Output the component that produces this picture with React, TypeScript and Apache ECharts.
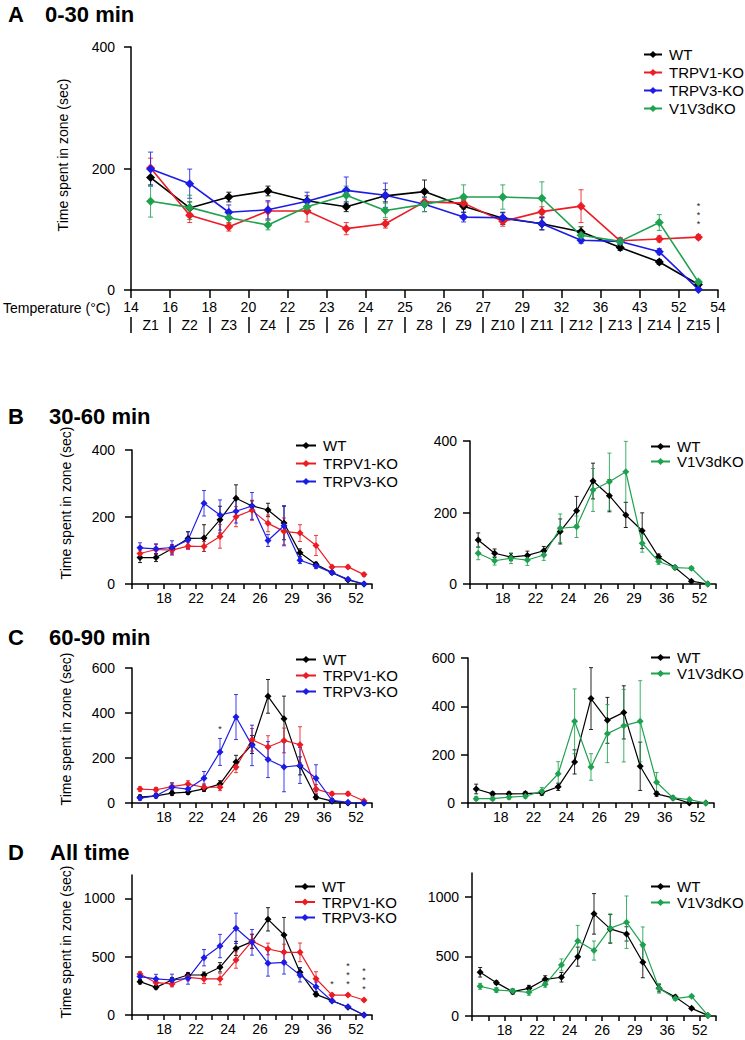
import React, { useEffect, useRef } from 'react';
import * as echarts from 'echarts';

// ---------- Axis categories ----------
const temps = ['14', '16', '18', '20', '22', '23', '24', '25', '26', '27', '29', '32', '36', '43', '52', '54'];
const zones = ['Z1', 'Z2', 'Z3', 'Z4', 'Z5', 'Z6', 'Z7', 'Z8', 'Z9', 'Z10', 'Z11', 'Z12', 'Z13', 'Z14', 'Z15'];

// ---------- Panel A: 0-30 min ----------
const A_WT = [185, 135, 153, 163, 147, 137, 155, 162, 138, 118, 109, 96, 70, 46, 9];
const A_WT_err = [12, 10, 8, 8, 8, 8, 10, 19, 10, 10, 10, 8, 5, 4, 3];
const A_V1 = [201, 123, 104, 130, 130, 101, 109, 145, 143, 113, 129, 138, 81, 84, 87];
const A_V1_err = [16, 12, 7, 15, 18, 10, 7, 7, 7, 8, 8, 27, 5, 5, 4];
const A_V3 = [199, 175, 128, 132, 146, 164, 156, 141, 120, 119, 109, 82, 80, 63, 1];
const A_V3_err = [28, 24, 12, 15, 15, 22, 20, 12, 8, 8, 10, 5, 5, 5, 1];
const A_DKO = [146, 136, 119, 107, 137, 156, 131, 141, 153, 153, 151, 90, 80, 111, 13];
const A_DKO_err = [26, 20, 10, 8, 10, 15, 12, 12, 20, 20, 27, 8, 5, 13, 3];

// ---------- Panel B: 30-60 min ----------
const B_WT = [79, 79, 105, 136, 137, 192, 256, 233, 221, 182, 93, 59, 34, 12, 0];
const B_WT_err = [15, 12, 12, 20, 40, 40, 40, 15, 20, 50, 12, 6, 4, 3, 0];
const B_V1 = [91, 103, 101, 113, 112, 142, 201, 220, 181, 157, 152, 115, 51, 51, 28];
const B_V1_err = [10, 15, 15, 10, 15, 35, 30, 30, 25, 40, 25, 30, 5, 5, 5];
const B_V3 = [108, 105, 109, 131, 241, 206, 217, 233, 130, 174, 71, 54, 34, 14, 0];
const B_V3_err = [15, 15, 20, 25, 38, 45, 35, 40, 18, 60, 10, 8, 5, 3, 0];
const BR_WT = [123, 86, 75, 80, 93, 147, 205, 288, 247, 193, 149, 76, 46, 8, 0];
const BR_WT_err = [20, 12, 10, 12, 12, 35, 40, 50, 45, 35, 50, 8, 5, 3, 0];
const BR_DKO = [86, 65, 72, 67, 81, 156, 160, 263, 286, 314, 114, 63, 46, 44, 0];
const BR_DKO_err = [18, 12, 15, 15, 15, 40, 30, 60, 80, 85, 25, 8, 5, 5, 0];

// ---------- Panel C: 60-90 min ----------
const C_WT = [26, 32, 44, 48, 63, 84, 182, 260, 474, 375, 165, 26, 8, 0, 0];
const C_WT_err = [10, 8, 10, 10, 12, 15, 30, 40, 75, 100, 40, 10, 5, 2, 0];
const C_V1 = [62, 59, 73, 84, 70, 70, 160, 281, 249, 278, 259, 62, 41, 41, 9];
const C_V1_err = [10, 10, 15, 15, 15, 15, 25, 50, 50, 55, 80, 20, 8, 8, 5];
const C_V3 = [22, 32, 70, 62, 110, 227, 382, 256, 193, 160, 167, 110, 12, 3, 0];
const C_V3_err = [10, 10, 20, 15, 30, 60, 100, 90, 80, 110, 80, 60, 8, 3, 0];
const CR_WT = [58, 38, 38, 39, 42, 67, 170, 432, 342, 375, 152, 38, 21, 0, 0];
const CR_WT_err = [20, 8, 8, 8, 10, 15, 50, 128, 95, 110, 100, 10, 5, 2, 0];
const CR_DKO = [18, 18, 24, 28, 49, 121, 338, 149, 287, 320, 338, 86, 21, 14, 0];
const CR_DKO_err = [8, 8, 8, 8, 15, 50, 134, 55, 120, 150, 168, 40, 8, 5, 0];

// ---------- Panel D: All time ----------
const D_WT = [286, 237, 300, 343, 343, 409, 571, 629, 820, 686, 366, 177, 123, 66, 0];
const D_WT_err = [20, 15, 20, 20, 25, 40, 60, 60, 100, 150, 40, 20, 10, 5, 0];
const D_V1 = [351, 277, 266, 323, 309, 309, 471, 634, 566, 537, 537, 311, 171, 171, 129];
const D_V1_err = [20, 20, 25, 30, 40, 50, 70, 60, 50, 70, 80, 60, 15, 10, 10];
const D_V3 = [329, 309, 300, 314, 491, 591, 743, 623, 443, 451, 343, 243, 120, 71, 0];
const D_V3_err = [30, 40, 50, 50, 70, 100, 130, 110, 110, 100, 60, 40, 10, 10, 0];
const DR_WT = [367, 280, 204, 232, 308, 325, 498, 857, 731, 689, 451, 232, 160, 64, 5];
const DR_WT_err = [40, 15, 20, 25, 30, 40, 80, 170, 120, 60, 130, 30, 15, 10, 0];
const DR_DKO = [249, 218, 210, 199, 266, 429, 630, 549, 737, 787, 597, 232, 146, 165, 5];
const DR_DKO_err = [25, 20, 20, 25, 25, 50, 130, 80, 120, 220, 150, 40, 15, 10, 0];

// significance marks (zone index -> text)
const A_V1_stars: Record<number, string> = { 14: '*\n*\n*' };
const C_V3_stars: Record<number, string> = { 5: '*' };
const D_V1_stars: Record<number, string> = { 12: '*', 13: '*\n*\n*', 14: '*\n*\n*' };

const COLORS: Record<string, string> = {
  WT: '#000000',
  'TRPV1-KO': '#ec1c24',
  'TRPV3-KO': '#1c1ce6',
  V1V3dKO: '#1fa250',
};
const FONT = '"Liberation Sans", Arial, sans-serif';

function lineSeries(name: string, vals: number[], gi: number, size: number, width: number, stars?: Record<number, string>, starDist = 4) {
  const color = COLORS[name];
  return {
    type: 'line',
    name,
    xAxisIndex: gi,
    yAxisIndex: gi,
    symbol: 'diamond',
    symbolSize: size,
    showSymbol: true,
    lineStyle: { color, width },
    itemStyle: { color },
    z: 3,
    data: vals.map((v, i) => {
      const item: any = { value: [i + 0.5, v] };
      if (stars && stars[i]) {
        item.label = {
          show: true,
          position: 'top',
          distance: starDist,
          formatter: stars[i],
          fontSize: 9,
          lineHeight: 9,
          color: '#222',
          fontFamily: FONT,
        };
      }
      return item;
    }),
  };
}

function errSeries(name: string, vals: number[], errs: number[], gi: number, cap: number, width: number) {
  const color = COLORS[name];
  return {
    type: 'custom',
    name: name + ' SEM',
    xAxisIndex: gi,
    yAxisIndex: gi,
    silent: true,
    z: 2,
    encode: { x: 0, y: [1, 2] },
    data: vals.map((v, i) => [i + 0.5, Math.max(0, v - errs[i]), v + errs[i]]),
    renderItem: (_params: any, api: any) => {
      const x = api.value(0);
      const lo = api.coord([x, api.value(1)]);
      const hi = api.coord([x, api.value(2)]);
      const style = { stroke: color, lineWidth: width, opacity: 0.85 };
      return {
        type: 'group',
        children: [
          { type: 'line', shape: { x1: lo[0], y1: lo[1], x2: hi[0], y2: hi[1] }, style },
          { type: 'line', shape: { x1: lo[0] - cap, y1: lo[1], x2: lo[0] + cap, y2: lo[1] }, style },
          { type: 'line', shape: { x1: hi[0] - cap, y1: hi[1], x2: hi[0] + cap, y2: hi[1] }, style },
        ],
      };
    },
  };
}

function group(name: string, vals: number[], errs: number[], gi: number, big: boolean, stars?: Record<number, string>, starDist?: number) {
  return [
    errSeries(name, vals, errs, gi, big ? 2.5 : 2, 1),
    lineSeries(name, vals, gi, big ? 9 : 7, big ? 1.6 : 1.2, stars, starDist),
  ];
}

const grids = [
  { left: 131, top: 47, width: 587, height: 243 },
  { left: 132, top: 450, width: 240, height: 134 },
  { left: 470, top: 441, width: 246, height: 143 },
  { left: 132, top: 668, width: 240, height: 135 },
  { left: 468, top: 658, width: 246, height: 145 },
  { left: 132, top: 875, width: 240, height: 140 },
  { left: 472, top: 873, width: 244, height: 143 },
];
const yMax = [400, 400, 400, 600, 600, 1200, 1200];
const yInt = [200, 200, 200, 200, 200, 500, 500];
const yLabelMargin = [16, 17, 13, 17, 13, 17, 13];

export default function App() {
  const ref = useRef<HTMLDivElement>(null);
  useEffect(() => {
    document.body.style.margin = '0';
    if (!ref.current) return;
    const chart = echarts.init(ref.current, undefined, { renderer: 'svg' });

    const axisLineStyle = { color: '#000', width: 1.5 };
    const labelStyle = { color: '#000', fontSize: 14, fontFamily: FONT };

    const xAxes: any[] = grids.map((_, gi) => ({
      type: 'value',
      gridIndex: gi,
      min: 0,
      max: 15,
      interval: 1,
      splitLine: { show: false },
      axisLine: { show: true, onZero: false, lineStyle: axisLineStyle },
      axisTick: { show: true, length: gi === 0 ? 8 : 5, lineStyle: axisLineStyle },
      axisLabel: {
        ...labelStyle,
        margin: gi === 0 ? 10 : 7,
        showMinLabel: true,
        showMaxLabel: true,
        formatter: (v: number) => {
          if (gi === 0) return temps[v] ?? '';
          return v % 2 === 0 && v >= 2 && v <= 14 ? temps[v] : '';
        },
      },
    }));
    // zone row under panel A
    xAxes.push({
      type: 'category',
      gridIndex: 0,
      data: zones,
      position: 'bottom',
      offset: 43,
      boundaryGap: true,
      axisLine: { show: true, onZero: false, lineStyle: { color: '#000', opacity: 0 } },
      axisTick: { show: true, inside: true, interval: 0, length: 16, lineStyle: { color: '#000', width: 1.5 } },
      axisLabel: { ...labelStyle, margin: -15, interval: 0 },
    });

    const yAxes = grids.map((_, gi) => {
      const ticks: number[] = [];
      for (let v = 0; v <= yMax[gi]; v += yInt[gi]) ticks.push(v);
      return {
        type: 'value',
        gridIndex: gi,
        min: 0,
        max: yMax[gi],
        interval: yInt[gi],
        splitLine: { show: false },
        axisLine: { show: true, lineStyle: axisLineStyle },
        axisTick: { show: true, length: 7, lineStyle: axisLineStyle, customValues: ticks },
        axisLabel: { ...labelStyle, margin: yLabelMargin[gi], customValues: ticks, formatter: (v: number) => String(v) },
      };
    });

    const series: any[] = [
      // invisible carrier so the zone axis (category) is not blank
      {
        type: 'line', name: 'zones', xAxisIndex: 7, yAxisIndex: 0, silent: true,
        data: zones.map((z) => [z, 0]), showSymbol: false, symbol: 'none',
        lineStyle: { opacity: 0 }, z: 0,
      },
      ...group('WT', A_WT, A_WT_err, 0, true),
      ...group('TRPV1-KO', A_V1, A_V1_err, 0, true, A_V1_stars, 4),
      ...group('TRPV3-KO', A_V3, A_V3_err, 0, true),
      ...group('V1V3dKO', A_DKO, A_DKO_err, 0, true),

      ...group('WT', B_WT, B_WT_err, 1, false),
      ...group('TRPV1-KO', B_V1, B_V1_err, 1, false),
      ...group('TRPV3-KO', B_V3, B_V3_err, 1, false),
      ...group('WT', BR_WT, BR_WT_err, 2, false),
      ...group('V1V3dKO', BR_DKO, BR_DKO_err, 2, false),

      ...group('WT', C_WT, C_WT_err, 3, false),
      ...group('TRPV1-KO', C_V1, C_V1_err, 3, false),
      ...group('TRPV3-KO', C_V3, C_V3_err, 3, false, C_V3_stars, 15),
      ...group('WT', CR_WT, CR_WT_err, 4, false),
      ...group('V1V3dKO', CR_DKO, CR_DKO_err, 4, false),

      ...group('WT', D_WT, D_WT_err, 5, false),
      ...group('TRPV1-KO', D_V1, D_V1_err, 5, false, D_V1_stars, 3),
      ...group('TRPV3-KO', D_V3, D_V3_err, 5, false),
      ...group('WT', DR_WT, DR_WT_err, 6, false),
      ...group('V1V3dKO', DR_DKO, DR_DKO_err, 6, false),
    ];

    const legendBase = {
      orient: 'vertical',
      padding: 0,
      itemHeight: 9,
      selectedMode: false,
      textStyle: { color: '#000', fontSize: 15, fontFamily: FONT, padding: [0, 0, 0, 2] },
    };
    const three = ['WT', 'TRPV1-KO', 'TRPV3-KO'];
    const two = ['WT', 'V1V3dKO'];
    const legends = [
      { ...legendBase, data: ['WT', 'TRPV1-KO', 'TRPV3-KO', 'V1V3dKO'], left: 643, top: 47, itemWidth: 18, itemGap: 3 },
      { ...legendBase, data: three, left: 295, top: 438, itemWidth: 20, itemGap: 3 },
      { ...legendBase, data: two, left: 650, top: 439, itemWidth: 19, itemGap: 0 },
      { ...legendBase, data: three, left: 295, top: 652, itemWidth: 20, itemGap: 1 },
      { ...legendBase, data: two, left: 650, top: 650, itemWidth: 19, itemGap: 1 },
      { ...legendBase, data: three, left: 294, top: 879, itemWidth: 20, itemGap: 0.5 },
      { ...legendBase, data: two, left: 650, top: 879, itemWidth: 19, itemGap: 1 },
    ];

    const titleFont = `bold 22px ${FONT}`;
    const nameFont = `14px ${FONT}`;
    const title = (x: number, y: number, text: string) => ({
      type: 'text', x, y, style: { text, font: titleFont, fill: '#000', verticalAlign: 'middle' },
    });
    const yName = (x: number, y: number) => ({
      type: 'text', x, y, rotation: Math.PI / 2,
      style: { text: 'Time spent in zone (sec)', font: nameFont, fill: '#000', align: 'center', verticalAlign: 'middle' },
    });

    chart.setOption({
      animation: false,
      backgroundColor: '#ffffff',
      grid: grids,
      xAxis: xAxes,
      yAxis: yAxes,
      legend: legends,
      series,
      graphic: [
        title(8, 14, 'A'), title(45, 14, '0-30 min'),
        title(8, 416, 'B'), title(49, 416, '30-60 min'),
        title(8, 637, 'C'), title(49, 637, '60-90 min'),
        title(8, 852, 'D'), title(50, 852, 'All time'),
        yName(63, 155), yName(66, 503), yName(66, 729), yName(66, 942),
        { type: 'text', x: 3, y: 308, style: { text: 'Temperature (°C)', font: nameFont, fill: '#000', verticalAlign: 'middle' } },
      ],
    });
    return () => chart.dispose();
  }, []);
  return <div ref={ref} style={{ width: 745, height: 1040, position: 'absolute', left: 0, top: 0 }} />;
}
